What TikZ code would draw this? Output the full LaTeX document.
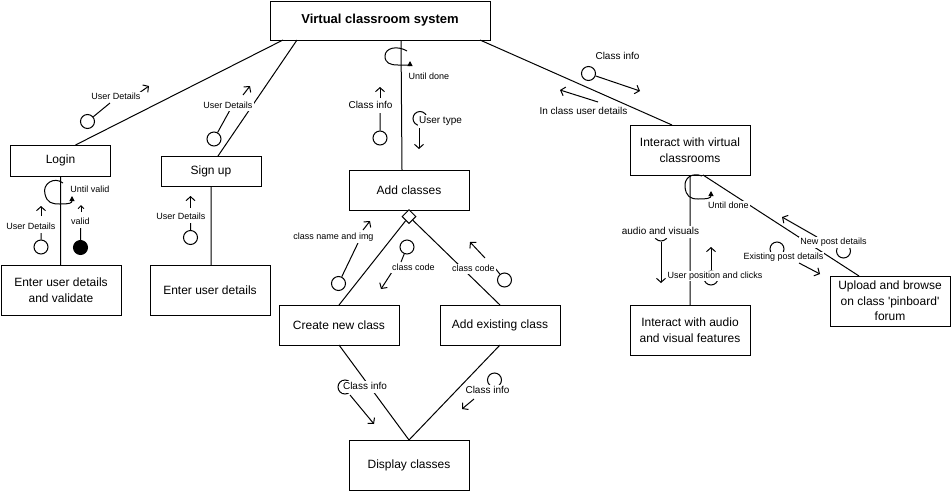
\documentclass[tikz,border=0pt]{standalone}
\usepackage{fontspec}
\setmainfont{Liberation Sans}
\usetikzlibrary{arrows.meta, calc, positioning, shapes.geometric}

\tikzset{
  box/.style={draw, align=center, inner sep=0pt, outer sep=0pt, font=\fontsize{12}{15.5}\selectfont},
  flag/.style={draw, circle, fill=white, minimum size=14pt, inner sep=0pt},
  tag/.style={fill=white, inner sep=1pt, text height=6.5pt, text depth=1.9pt, font=\fontsize{9}{10}\selectfont},
  bigtag/.style={fill=white, inner sep=1pt, text height=7.2pt, text depth=2.1pt, font=\fontsize{10}{11}\selectfont},
  flow/.style={-{Straight Barb[length=4pt,width=9pt]}},
  iterloop/.style={-{Triangle[length=5pt,width=5pt]}}
}

\begin{document}
\begin{tikzpicture}[x=1pt, y=-1pt, line width=1pt]
\useasboundingbox (0,0) rectangle (951,491);

% processes
\node[box, minimum width=220pt, minimum height=39pt, font=\bfseries\fontsize{13}{15}\selectfont] (sys) at (380,20.5) {Virtual classroom system};
\node[box, minimum width=100pt, minimum height=31pt] (login) at (60.5,160.5) {Login};
\node[box, minimum width=100pt, minimum height=30pt] (signup) at (211,171) {Sign up};
\node[box, minimum width=120pt, minimum height=50pt] (validate) at (61,290) {Enter user details\\and validate};
\node[box, minimum width=120pt, minimum height=50pt] (details) at (210,290) {Enter user details};
\node[box, minimum width=120pt, minimum height=40pt] (addcls) at (409,190) {Add classes};
\node[diamond, draw, fill=white, aspect=1, minimum size=14pt, inner sep=0pt, anchor=north] (fork) at ($(addcls.south)+(0,-1)$) {};
\node[box, minimum width=120pt, minimum height=40pt] (newcls) at (339,325) {Create new class};
\node[box, minimum width=120pt, minimum height=40pt] (oldcls) at (500,325) {Add existing class};
\node[box, minimum width=120pt, minimum height=50pt] (showcls) at (409,465) {Display classes};
\node[box, minimum width=120pt, minimum height=50pt] (room) at (690,150) {Interact with virtual\\classrooms};
\node[box, minimum width=120pt, minimum height=50pt] (media) at (690,330) {Interact with audio\\and visual features};
\node[box, minimum width=120pt, minimum height=50pt] (forum) at (890,301) {Upload and browse\\on class \textquotesingle pinboard\textquotesingle\\forum};

% calls
\draw
($(sys.south west)+(13,0)$) -- ($(login.north)+(15,0)$)
($(sys.south west)+(27,0)$) -- ($(signup.north)+(7,0)$)
($(sys.south)+(21,0)$) -- ($(addcls.north)+(-7,0)$)
($(sys.south east)+(-10,0)$) -- ($(room.north)+(-18,0)$)
(login.south) -- (login.south |- validate.north)
(signup.south) -- (signup.south |- details.north)
(fork) -- (newcls.north)
(fork) -- (oldcls.north)
(newcls.south) -- (showcls.north)
(oldcls.south) -- (showcls.north)
(room.south) -- (media.north)
($(room.south)+(13,0)$) -- ($(forum.north)+(-31,0)$);

% iterations
\draw[iterloop] (63,183) .. controls (54,176) and (42,184) .. (45,194) .. controls (47,203) and (52,204) .. (60,204) .. controls (70,204) and (72,203) .. (72,196);
\draw[iterloop] (407,51) .. controls (397,45) and (385,48) .. (385,56) .. controls (385,63) and (390,65) .. (398,65) .. controls (406,65) and (410,65) .. (410,61);
\draw[iterloop] (702,176) .. controls (692,172) and (684,178) .. (685,187) .. controls (686,196) and (690,199) .. (698,199) .. controls (708,199) and (711,198) .. (711,191);

% couples
\node[flag] (cud1) at (87.5,121.5) {};
\node[flag] (cud2) at (214,139) {};
\node[flag, fill=black] (cvalid) at (80.5,247.5) {};
\node[flag] (cud3) at (41,247) {};
\node[flag] (cud4) at (190.5,237.5) {};
\node[flag] (cinfo1) at (380,138) {};
\node[flag] (ctype) at (420,118.5) {};
\node[flag] (cinfo2) at (588.5,73.5) {};
\node[flag] (cname) at (338.5,283.5) {};
\node[flag] (ccode1) at (407,247) {};
\node[flag] (ccode2) at (504.5,280) {};
\node[flag] (cinfo3) at (345,387) {};
\node[flag] (cinfo4) at (494.5,380) {};
\node[flag] (cav) at (661,234) {};
\node[flag] (cpos) at (711,278) {};
\node[flag] (cold) at (777,249) {};
\node[flag] (cnew) at (843.5,251) {};

\draw
(cud1) -- (110,103)
(cud2) -- (230,110)
(cvalid) -- (80.5,228)
(cud3) -- (41,233)
(cud4) -- (190.5,223)
(cinfo1) -- (380,113)
(cname) -- (358,243)
(ccode1) -- (401,262)
(ccode2) -- (495,268);

\draw[flow] (139,93) -- (149,86);
\draw[flow] (243,95) -- (250,86);
\draw[-{Straight Barb[length=3pt,width=6pt]}] (81,212) -- (81,205);
\draw[flow] (41,216) -- (41,206);
\draw[flow] (190.5,208) -- (190.5,196);
\draw[flow] (380,98) -- (380,87);
\draw[flow] (419,128) -- (419,149);
\draw[flow] (cinfo2) -- (640,91);
\draw[flow] (598,102) -- (560,90);
\draw[flow] (363,230) -- (370,221);
\draw[flow] (392,272) -- (381,289);
\draw[flow] (485,258) -- (470,242);
\draw[flow] (350,395) -- (374,424);
\draw[flow] (474,399) -- (462,409);
\draw[flow] (cav) -- (661,283);
\draw[flow] (711,270) -- (711,247);
\draw[flow] (799,263) -- (820,274);
\draw[flow] (817,237) -- (782,217);

% labels
\node[tag] (lud1) at (116,97) {User Details};
\node[tag] (lud2) at (228,106) {User Details};
\node[tag] (luntil1) at (90,190.5) {Until valid};
\node[tag] (lvalid) at (80.5,222) {valid};
\node[tag] (lud3) at (31,227) {User Details};
\node[tag] (lud4) at (181,217) {User Details};
\node[tag] (luntil2) at (429,77) {Until done};
\node[bigtag] (linfo1) at (370.5,106) {Class info};
\node[bigtag] (ltype) at (440.5,121) {User type};
\node[bigtag] (linfo2) at (617.5,57) {Class info};
\node[bigtag] (linclass) at (583.5,112) {In class user details};
\node[tag] (lname) at (333.5,237.5) {class name and img};
\node[tag] (lcode1) at (413.5,268) {class code};
\node[tag] (lcode2) at (473.5,269) {class code};
\node[bigtag] (linfo3) at (365,387) {Class info};
\node[bigtag] (linfo4) at (487.5,391) {Class info};
\node[tag] (luntil3) at (728.5,206) {Until done};
\node[bigtag] (lav) at (660.5,232) {audio and visuals};
\node[tag] (lpos) at (715,276) {User position and clicks};
\node[tag] (lold) at (783.5,257) {Existing post details};
\node[tag] (lnew) at (833.5,242.5) {New post details};
\end{tikzpicture}
\end{document}
